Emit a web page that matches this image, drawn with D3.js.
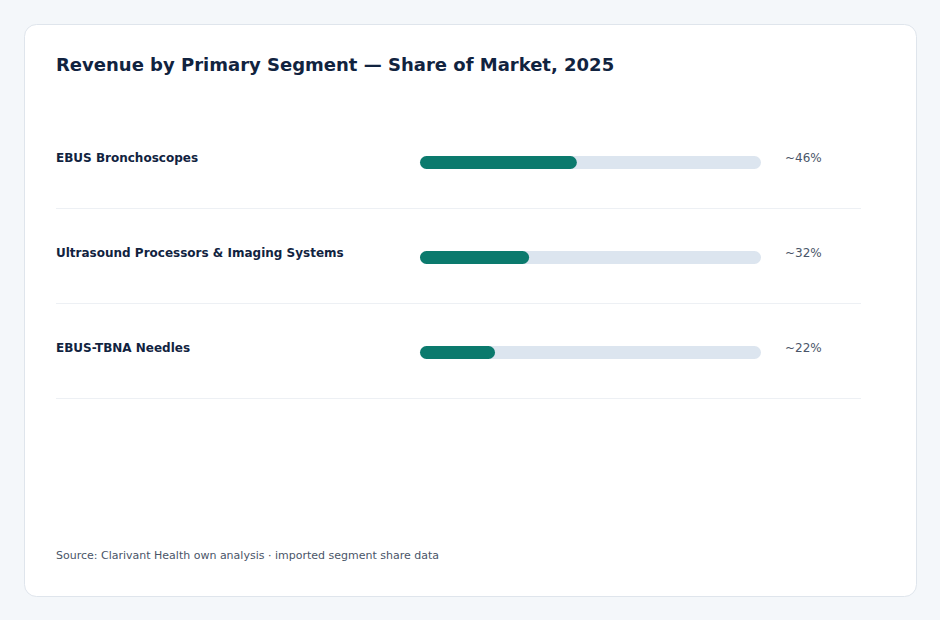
<!DOCTYPE html>
<html>
<head>
<meta charset="utf-8">
<script src="https://cdn.jsdelivr.net/npm/d3@7"></script>
<style>
  html, body { margin: 0; padding: 0; background: #f4f7fa; }
  body { width: 940px; height: 620px; font-family: "DejaVu Sans", sans-serif; }
</style>
</head>
<body>
<div id="chart"></div>
<script>
// data
var segments = ['EBUS Bronchoscopes', 'Ultrasound Processors & Imaging Systems', 'EBUS-TBNA Needles'];
var shares = [46, 32, 22];
var shareLabels = ['~46%', '~32%', '~22%'];
var titleText = 'Revenue by Primary Segment \u2014 Share of Market, 2025';
var sourceText = 'Source: Clarivant Health own analysis \u00b7 imported segment share data';

var dataset = segments.map((s, i) => ({ name: s, value: shares[i], label: shareLabels[i] }));

// dimensions
var dimensions = {
  width: 940,
  height: 620,
  card: { x: 25, y: 25, w: 891, h: 571 },
  rowTop: 113,
  rowHeight: 95,
  left: 56,
  right: 861,
  barLeft: 420,
  barRight: 761,
  barHeight: 13
};

var svg = d3.select('#chart')
  .append('svg')
  .attr('width', dimensions.width)
  .attr('height', dimensions.height);

// card
svg.append('rect')
  .attr('x', dimensions.card.x - 0.5)
  .attr('y', dimensions.card.y - 0.5)
  .attr('width', dimensions.card.w + 1)
  .attr('height', dimensions.card.h + 1)
  .attr('rx', 12)
  .attr('fill', '#ffffff')
  .attr('stroke', '#dfe5ec');

svg.append('text')
  .attr('x', dimensions.left)
  .attr('y', 71)
  .attr('fill', '#11233f')
  .style('font-size', '18px')
  .style('font-weight', 'bold')
  .text(titleText);

// scales
var xScale = d3.scaleLinear()
  .domain([0, 100])
  .range([dimensions.barLeft, dimensions.barRight]);

var yScale = d3.scaleBand()
  .domain(segments)
  .range([dimensions.rowTop, dimensions.rowTop + dimensions.rowHeight * segments.length])
  .padding(0);

var rows = svg.append('g')
  .selectAll('g')
  .data(dataset)
  .join('g')
  .attr('transform', d => 'translate(0,' + yScale(d.name) + ')');

rows.append('text')
  .attr('x', dimensions.left)
  .attr('y', 49)
  .attr('fill', '#11233f')
  .style('font-size', '12px')
  .style('font-weight', 'bold')
  .text(d => d.name);

// track
rows.append('rect')
  .attr('x', xScale(0))
  .attr('y', 43)
  .attr('width', xScale(100) - xScale(0))
  .attr('height', dimensions.barHeight)
  .attr('rx', 6.5)
  .attr('fill', '#dce5ef');

// fill
rows.append('rect')
  .attr('x', xScale(0))
  .attr('y', 43)
  .attr('width', d => xScale(d.value) - xScale(0))
  .attr('height', dimensions.barHeight)
  .attr('rx', 6.5)
  .attr('fill', '#0b7a6d');

rows.append('text')
  .attr('x', 785)
  .attr('y', 49)
  .attr('fill', '#4a5568')
  .style('font-size', '12px')
  .text(d => d.label);

rows.append('line')
  .attr('x1', dimensions.left)
  .attr('x2', dimensions.right)
  .attr('y1', yScale.bandwidth() + 0.5)
  .attr('y2', yScale.bandwidth() + 0.5)
  .attr('stroke', '#edf0f4');

svg.append('text')
  .attr('x', dimensions.left)
  .attr('y', 559)
  .attr('fill', '#4a5568')
  .style('font-size', '11px')
  .text(sourceText);
</script>
</body>
</html>
